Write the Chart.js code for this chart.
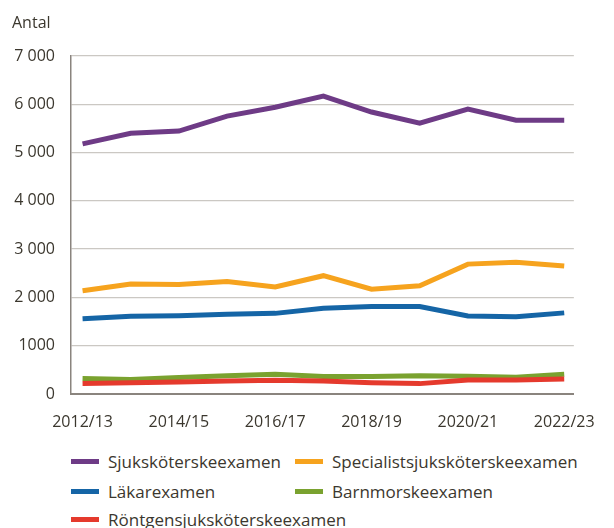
<!DOCTYPE html>
<html lang="sv">
<head>
<meta charset="utf-8">
<script src="https://cdn.jsdelivr.net/npm/chart.js@4/dist/chart.umd.min.js"></script>
<style>
    body { margin: 0; width: 614px; height: 528px; overflow: hidden; background: #fff; font-family: "Open Sans", sans-serif; color: #3b372e; position: relative; }
    #grafica { position: absolute; left: 0; top: 0; }
    .legend { position: absolute; left: 0; top: 450px; width: 614px; }
    .item { position: absolute; display: flex; align-items: center; font-size: 17px; white-space: nowrap; }
    .item span.swatch { display: inline-block; width: 28px; height: 5px; margin-right: 9px; }
</style>
</head>
<body>
<canvas id="grafica" width="614" height="440"></canvas>
<div class="legend" id="legend"></div>
<script>
const years = ['2012/13', '2013/14', '2014/15', '2015/16', '2016/17', '2017/18', '2018/19', '2019/20', '2020/21', '2021/22', '2022/23'];
const yTickLabels = ['0', '1000', '2 000', '3 000', '4 000', '5 000', '6 000', '7 000'];

const sjukskoterske = [5180, 5400, 5445, 5755, 5940, 6170, 5840, 5610, 5900, 5670, 5670];
const specialist = [2140, 2280, 2270, 2330, 2215, 2450, 2170, 2240, 2690, 2730, 2650];
const lakare = [1560, 1610, 1620, 1650, 1670, 1775, 1810, 1810, 1615, 1600, 1680];
const barnmorske = [320, 300, 340, 380, 410, 360, 360, 380, 370, 345, 410];
const rontgen = [220, 235, 250, 270, 285, 270, 235, 215, 290, 290, 310];

const seriesNames = ['Sjuksköterskeexamen', 'Specialistsjuksköterskeexamen', 'Läkarexamen', 'Barnmorskeexamen', 'Röntgensjuksköterskeexamen'];
const seriesValues = [sjukskoterske, specialist, lakare, barnmorske, rontgen];
const colores = ['#6e3b86', '#f6a31e', '#1565a6', '#7aa22f', '#e53a2d'];
const orden = [1, 2, 3, 4, 0];

const textColor = '#3b372e';

const antalPlugin = {
    id: 'antal',
    afterDraw(chart) {
        const ctx = chart.ctx;
        ctx.save();
        ctx.font = '16px "Open Sans"';
        ctx.fillStyle = textColor;
        ctx.textBaseline = 'alphabetic';
        ctx.textAlign = 'left';
        ctx.fillText('Antal', 12, 28);
        ctx.restore();
    }
};

const init = () => {
    let chartCanva = document.getElementById('grafica').getContext('2d');
    let chart = new Chart(chartCanva, {
        type: 'line',
        data: {
            datasets: seriesNames.map((name, i) => ({
                label: name,
                data: seriesValues[i].map((v, j) => ({ x: j, y: v })),
                borderColor: colores[i],
                backgroundColor: colores[i],
                borderWidth: 5,
                pointRadius: 0,
                tension: 0,
                fill: false,
                order: orden[i],
            }))
        },
        options: {
            responsive: false,
            animation: false,
            devicePixelRatio: 1,
            layout: { padding: { top: 56, right: 21, left: 0, bottom: 0 } },
            plugins: { legend: { display: false }, tooltip: { enabled: false } },
            scales: {
                x: {
                    type: 'linear',
                    min: -0.24,
                    max: 10.2,
                    afterBuildTicks: (scale) => {
                        scale.ticks = years.map((y, i) => ({ value: i })).filter(t => t.value % 2 === 0);
                    },
                    afterFit: (scale) => { scale.height = 46; },
                    ticks: {
                        callback: (v) => years[v],
                        color: textColor,
                        font: { family: 'Open Sans', size: 16 },
                        padding: 19,
                        maxRotation: 0,
                        autoSkip: false,
                    },
                    grid: { display: false, drawTicks: false },
                    border: { display: true, color: '#8a847e', width: 2 },
                },
                y: {
                    min: 0,
                    max: 7000,
                    afterFit: (scale) => { scale.width = 71; },
                    ticks: {
                        stepSize: 1000,
                        callback: (v) => yTickLabels[v / 1000],
                        color: textColor,
                        font: { family: 'Open Sans', size: 16 },
                        padding: 16,
                    },
                    grid: { color: '#cbc8c3', lineWidth: 1.3, drawTicks: false },
                    border: { display: true, color: '#8a847e', width: 1.5 },
                }
            }
        },
        plugins: [antalPlugin]
    });

    const legend = document.getElementById('legend');
    const posX = [71, 295, 71, 295, 71];
    const posY = [0, 30, 58];
    seriesNames.forEach((name, i) => {
        const item = document.createElement('div');
        item.className = 'item';
        item.style.left = posX[i] + 'px';
        item.style.top = posY[Math.floor(i / 2)] + 'px';
        item.innerHTML = '<span class="swatch" style="background:' + colores[i] + '"></span>' + name;
        legend.appendChild(item);
    });
}

document.addEventListener('DOMContentLoaded', () => {
    init()
})
</script>
</body>
</html>
